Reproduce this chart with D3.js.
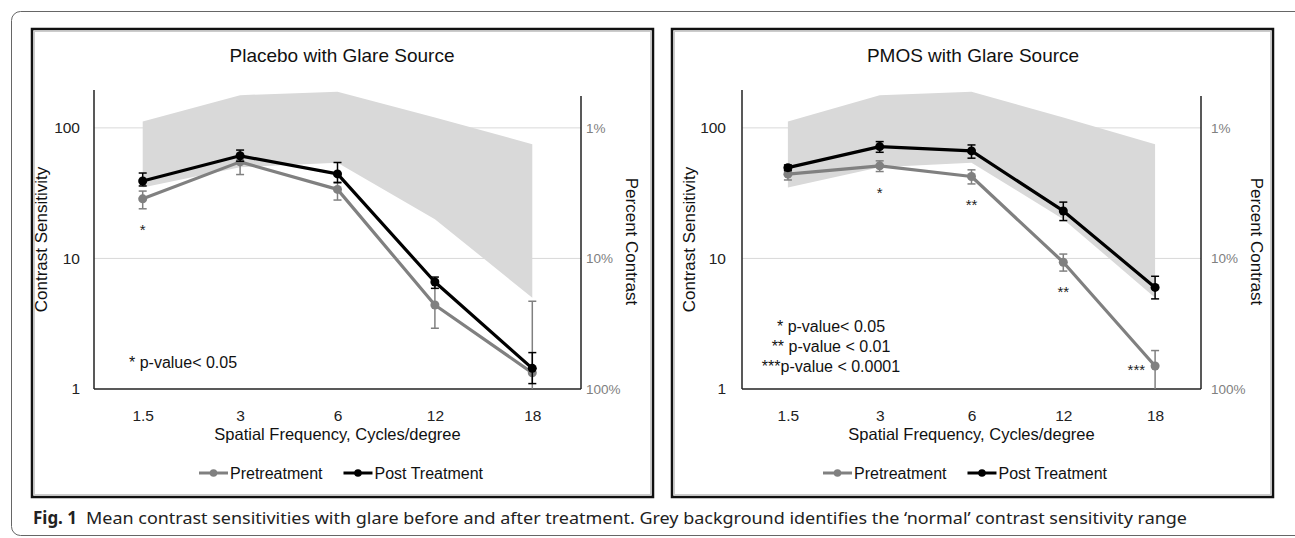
<!DOCTYPE html>
<html>
<head>
<meta charset="utf-8">
<script src="https://cdnjs.cloudflare.com/ajax/libs/d3/7.8.5/d3.min.js"></script>
<style>
  body { margin: 0; background: #fff; }
  svg { display: block; }
  text { font-family: "Liberation Sans", Arial, sans-serif; }
</style>
</head>
<body>
<svg id="fig" width="1295" height="538"></svg>
<script>
// spatial frequencies (cycles/degree)
const freqs = ["1.5", "3", "6", "12", "18"];
const yTicks = [1, 10, 100];

// 'normal' contrast sensitivity range (grey band)
const normalHi = [112, 178, 189, 120, 75];
const normalLo = [35, 50, 54, 20, 5];

// Placebo with glare source
const placeboPre   = [28.6, 54.9, 33.8, 4.4, 1.33];
const placeboPreLo = [24, 43.9, 28, 2.92, 1];
const placeboPreHi = [32.8, 60, 38.5, 6.8, 4.7];
const placeboPost   = [39.2, 61.1, 44.4, 6.6, 1.44];
const placeboPostLo = [35.9, 55.5, 38, 5.9, 1.1];
const placeboPostHi = [45.1, 67.6, 54.3, 7.2, 1.9];
const placeboSig = ["*", "", "", "", ""];
const placeboNote = ["* p-value< 0.05"];

// PMOS with glare source
const pmosPre   = [44.2, 51.2, 42.4, 9.35, 1.5];
const pmosPreLo = [39.9, 46.3, 37.2, 8.0, 1];
const pmosPreHi = [47.4, 55.9, 47.7, 10.8, 1.97];
const pmosPost   = [49.6, 71.9, 66.6, 23.1, 6.0];
const pmosPostLo = [47, 65, 58.6, 19.5, 4.9];
const pmosPostHi = [52, 78.5, 74, 27, 7.3];
const pmosSig = ["", "*", "**", "**", "***"];
const pmosNote = ["* p-value< 0.05", "** p-value < 0.01", "***p-value < 0.0001"];

const seriesNames = ["Pretreatment", "Post Treatment"];
const preColor = "#808080", postColor = "#000";

const svg = d3.select("#fig");

// outer rounded frame
svg.append("rect")
  .attr("x", 11.5).attr("y", 11.5)
  .attr("width", 1300).attr("height", 524)
  .attr("rx", 9)
  .style("fill", "none").style("stroke", "#666").style("stroke-width", 1);

function drawPanel(p) {
  const g = svg.append("g");

  // panel box with a light inner shadow
  g.append("rect")
    .attr("x", p.box[0] + 2.5).attr("y", 31.5)
    .attr("width", p.box[1] - p.box[0] - 5).attr("height", 463)
    .style("fill", "none").style("stroke", "#ccc").style("stroke-width", 1);
  g.append("rect")
    .attr("x", p.box[0]).attr("y", 29)
    .attr("width", p.box[1] - p.box[0]).attr("height", 468)
    .style("fill", "none").style("stroke", "#111").style("stroke-width", 2.5);

  g.append("text")
    .attr("x", p.titleX).attr("y", 62)
    .attr("text-anchor", "middle")
    .style("font-size", "19px").style("fill", "#111")
    .text(p.title);

  const x = d3.scalePoint().domain(freqs).range([p.left, p.right]).padding(0.5);
  const y = d3.scaleLog().domain([1, 195]).range([389, 90]);

  // gridlines
  g.selectAll(".grid").data([10, 100]).enter().append("line")
    .attr("x1", p.left).attr("x2", p.right)
    .attr("y1", d => y(d)).attr("y2", d => y(d))
    .style("stroke", "#d9d9d9").style("stroke-width", 1);

  // normal range band
  const area = d3.area()
    .x((d, i) => x(freqs[i]))
    .y0((d, i) => y(normalLo[i]))
    .y1(d => y(d));
  g.append("path").datum(normalHi)
    .attr("d", area)
    .style("fill", "#d9d9d9");

  // axes
  const yAxis = d3.axisLeft(y).tickValues(yTicks)
    .tickFormat(d3.format("d")).tickSize(0).tickPadding(p.padL);
  const ya = g.append("g").attr("transform", `translate(${p.left},0)`).call(yAxis);
  ya.select(".domain").remove();
  ya.selectAll("text").style("font-size", "15.5px").style("fill", "#222")
    .style("font-family", "'Liberation Sans', Arial, sans-serif");

  const pAxis = d3.axisRight(y).tickValues(yTicks)
    .tickFormat(d => (100 / d) + "%").tickSize(0).tickPadding(p.padR);
  const pa = g.append("g").attr("transform", `translate(${p.right},0)`).call(pAxis);
  pa.select(".domain").remove();
  pa.selectAll("text").style("font-size", "13.5px").style("fill", "#808080")
    .style("font-family", "'Liberation Sans', Arial, sans-serif");

  const xAxis = d3.axisBottom(x).tickSize(0).tickPadding(21);
  const xa = g.append("g").attr("transform", `translate(0,${y(1)})`).call(xAxis);
  xa.select(".domain").remove();
  xa.selectAll("text").style("font-size", "15.5px").style("fill", "#222")
    .style("font-family", "'Liberation Sans', Arial, sans-serif");

  const [yb, yt] = y.range();
  g.append("line").attr("x1", p.left).attr("x2", p.left).attr("y1", yb).attr("y2", yt)
    .style("stroke", "#222").style("stroke-width", 1.5);
  g.append("line").attr("x1", p.right).attr("x2", p.right).attr("y1", yb).attr("y2", yt + 6)
    .style("stroke", "#222").style("stroke-width", 1.5);
  g.append("line").attr("x1", p.left).attr("x2", p.right).attr("y1", yb).attr("y2", yb)
    .style("stroke", "#222").style("stroke-width", 1.5);

  // axis titles
  g.append("text")
    .attr("transform", `translate(${p.left - 47},${(yb + yt) / 2}) rotate(-90)`)
    .attr("text-anchor", "middle")
    .style("font-size", "17px").style("fill", "#111")
    .text("Contrast Sensitivity");
  g.append("text")
    .attr("transform", `translate(${p.right + p.padR + 40},${(yb + yt) / 2 + 2}) rotate(90)`)
    .attr("text-anchor", "middle")
    .style("font-size", "17px").style("fill", "#111")
    .text("Percent Contrast");
  g.append("text")
    .attr("x", (p.left + p.right) / 2).attr("y", 440)
    .attr("text-anchor", "middle")
    .style("font-size", "16.5px").style("fill", "#111")
    .text("Spatial Frequency, Cycles/degree");

  // series
  const line = d3.line().x((d, i) => x(freqs[i])).y(d => y(d));
  function series(vals, lo, hi, color) {
    g.append("path").datum(vals)
      .attr("d", line)
      .style("fill", "none").style("stroke", color).style("stroke-width", 3.2)
      .style("stroke-linejoin", "round");
    g.selectAll(null).data(vals).enter().append("circle")
      .attr("cx", (d, i) => x(freqs[i])).attr("cy", d => y(d))
      .attr("r", 4.5).style("fill", color);
    const eb = g.selectAll(null).data(vals.map((v, i) => i)).enter().append("g")
      .style("stroke", color).style("stroke-width", 1.5);
    eb.append("line")
      .attr("x1", i => x(freqs[i])).attr("x2", i => x(freqs[i]))
      .attr("y1", i => y(lo[i])).attr("y2", i => y(hi[i]));
    eb.append("line")
      .attr("x1", i => x(freqs[i]) - 4).attr("x2", i => x(freqs[i]) + 4)
      .attr("y1", i => y(hi[i])).attr("y2", i => y(hi[i]));
    eb.filter(i => lo[i] > 1).append("line")
      .attr("x1", i => x(freqs[i]) - 4).attr("x2", i => x(freqs[i]) + 4)
      .attr("y1", i => y(lo[i])).attr("y2", i => y(lo[i]));
  }
  series(p.pre, p.preLo, p.preHi, preColor);
  series(p.post, p.postLo, p.postHi, postColor);

  // significance stars (below the pretreatment point, or to its left when the bar hits the axis)
  const sig = p.sig.map((s, i) => ({ s, i })).filter(d => d.s !== "");
  g.selectAll(null).data(sig).enter().append("text")
    .attr("x", d => p.preLo[d.i] > 1 ? x(freqs[d.i]) : x(freqs[d.i]) - 10)
    .attr("y", d => p.preLo[d.i] > 1 ? y(p.preLo[d.i]) + 26 : y(p.pre[d.i]) + 9)
    .attr("text-anchor", d => p.preLo[d.i] > 1 ? "middle" : "end")
    .style("font-size", "15px").style("fill", "#222")
    .text(d => d.s);

  // p-value note
  g.selectAll(null).data(p.note).enter().append("text")
    .attr("x", p.noteX).attr("y", (d, i) => p.noteY + i * 20)
    .attr("text-anchor", p.noteAnchor)
    .style("font-size", "16px").style("fill", "#111")
    .text(d => d);

  // legend
  const colors = [preColor, postColor];
  const lg = g.append("g").attr("transform", `translate(${p.legendX},473)`);
  let off = 0;
  seriesNames.forEach((name, i) => {
    const it = lg.append("g").attr("transform", `translate(${off},0)`);
    it.append("line").attr("x1", 0).attr("x2", 29).attr("y1", 0).attr("y2", 0)
      .style("stroke", colors[i]).style("stroke-width", 3);
    it.append("circle").attr("cx", 14.5).attr("cy", 0).attr("r", 3.8).style("fill", colors[i]);
    const t = it.append("text").attr("x", 31).attr("y", 6)
      .style("font-size", "16px").style("fill", "#111").text(name);
    off += 31 + t.node().getComputedTextLength() + 21;
  });
}

drawPanel({
  box: [32, 653], left: 94, right: 581, titleX: 342,
  title: "Placebo with Glare Source",
  pre: placeboPre, preLo: placeboPreLo, preHi: placeboPreHi,
  post: placeboPost, postLo: placeboPostLo, postHi: placeboPostHi,
  sig: placeboSig, note: placeboNote,
  noteX: 129, noteY: 368, noteAnchor: "start",
  padL: 14, padR: 5, legendX: 199
});

drawPanel({
  box: [672, 1273], left: 742, right: 1201, titleX: 973,
  title: "PMOS with Glare Source",
  pre: pmosPre, preLo: pmosPreLo, preHi: pmosPreHi,
  post: pmosPost, postLo: pmosPostLo, postHi: pmosPostHi,
  sig: pmosSig, note: pmosNote,
  noteX: 831, noteY: 332, noteAnchor: "middle",
  padL: 16, padR: 10, legendX: 823
});

// caption
svg.append("text")
  .attr("x", 33).attr("y", 524)
  .attr("textLength", 44).attr("lengthAdjust", "spacingAndGlyphs")
  .style("font-family", "'Noto Sans', sans-serif").style("font-weight", "bold")
  .style("font-size", "17px").style("fill", "#222")
  .text("Fig. 1");
svg.append("text")
  .attr("x", 86).attr("y", 524)
  .attr("textLength", 1101).attr("lengthAdjust", "spacingAndGlyphs")
  .style("font-family", "'Noto Sans', sans-serif")
  .style("font-size", "17px").style("fill", "#222")
  .text("Mean contrast sensitivities with glare before and after treatment. Grey background identifies the \u2018normal\u2019 contrast sensitivity range");
</script>
</body>
</html>
